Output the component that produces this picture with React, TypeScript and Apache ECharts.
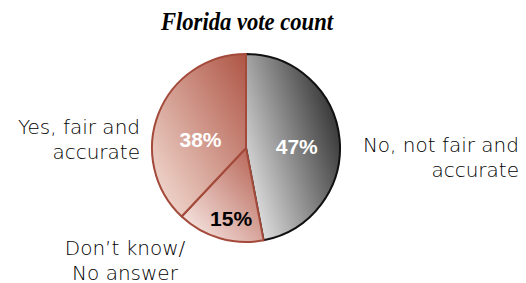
import React, { useEffect, useRef } from "react";
import * as echarts from "echarts";

const titleText = "Florida vote count";
const categories = ["No, not fair and\naccurate", "Don\u2019t know/\nNo answer", "Yes, fair and\naccurate"];
const values = [47, 15, 38];
const pctLabels = ["47%", "15%", "38%"];

// styling (not data)
const sliceGradients = [
  { x: 0, y: 1, x2: 1, y2: 0.4, from: "#f7f7f7", to: "#383838", border: "#111111" },
  { x: 0, y: 1, x2: 1, y2: 0, from: "#fdf3f0", to: "#b25a4a", border: "#a34a3b" },
  { x: 0, y: 1, x2: 1, y2: 0, from: "#f7e3da", to: "#ae5545", border: "#a34a3b" },
];
const pctColors = ["#ffffff", "#000000", "#ffffff"];
const pctOffsets = [[1, 3], [-1, 22], [1, 10]];
const namePos = [
  { x: 519, y: 157, align: "right" },
  { x: 125, y: 260, align: "center" },
  { x: 140, y: 139, align: "right" },
];

export default function App() {
  const ref = useRef<HTMLDivElement>(null);
  useEffect(() => {
    if (!ref.current) return;
    const chart = echarts.init(ref.current, null, { renderer: "svg" });
    const dataMain = values.map((v, i) => {
      const g = sliceGradients[i];
      return {
        value: v,
        name: categories[i],
        itemStyle: {
          color: new echarts.graphic.LinearGradient(g.x, g.y, g.x2, g.y2, [
            { offset: 0, color: g.from },
            { offset: 1, color: g.to },
          ]),
          borderColor: g.border,
          borderWidth: 2,
        },
        label: { color: pctColors[i] },
      };
    });
    chart.setOption({
      animation: false,
      graphic: [
        {
          type: "text",
          x: 247,
          y: 8,
          scaleX: 0.87,
          originX: 0,
          style: {
            text: titleText,
            fontFamily: "Liberation Serif",
            fontStyle: "italic",
            fontWeight: "bold",
            fontSize: 26,
            fill: "#000",
            align: "center",
            verticalAlign: "top",
          },
        },
      ],
      series: [
        {
          type: "pie",
          center: [246, 148],
          radius: 94,
          startAngle: 90,
          clockwise: true,
          avoidLabelOverlap: false,
          silent: true,
          data: dataMain,
          label: {
            show: true,
            position: "inside",
            formatter: (p: any) => pctLabels[p.dataIndex],
            fontFamily: "Liberation Sans",
            fontWeight: "bold",
            fontSize: 21,
          },
          labelLine: { show: false },
          labelLayout: (p: any) => ({ dx: pctOffsets[p.dataIndex][0], dy: pctOffsets[p.dataIndex][1] }),
        },
        {
          type: "pie",
          center: [246, 148],
          radius: 94,
          startAngle: 90,
          clockwise: true,
          avoidLabelOverlap: false,
          silent: true,
          data: values.map((v, i) => ({ value: v, name: categories[i] })),
          itemStyle: { color: "rgba(0,0,0,0)", borderWidth: 0 },
          label: {
            show: true,
            position: "outside",
            formatter: "{b}",
            fontFamily: "DejaVu Sans",
            fontWeight: 200,
            fontSize: 20,
            lineHeight: 25,
            color: "#000000",
          },
          labelLine: { show: false },
          labelLayout: (p: any) => {
            const n = namePos[p.dataIndex];
            return { x: n.x, y: n.y, align: n.align, verticalAlign: "middle" };
          },
        },
      ],
    });
    return () => chart.dispose();
  }, []);
  return (
    <div
      ref={ref}
      style={{ position: "fixed", left: 0, top: 0, width: 526, height: 283, background: "#fff" }}
    />
  );
}
